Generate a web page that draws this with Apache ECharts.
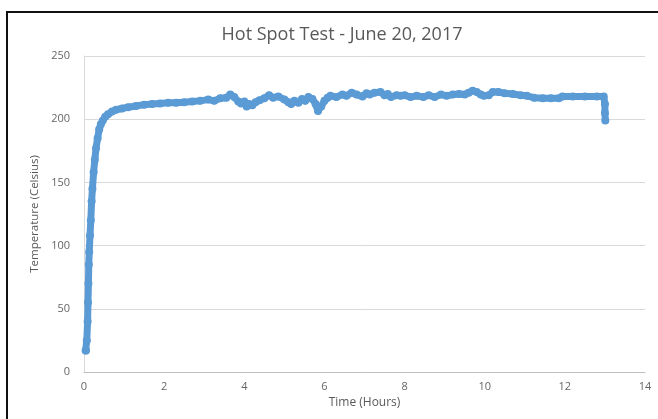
<!DOCTYPE html>
<html>
<head>
<meta charset="utf-8">
<script src="https://cdn.jsdelivr.net/npm/echarts@6/dist/echarts.min.js"></script>
<style>
  html, body { margin: 0; padding: 0; background: #fff; overflow: hidden; }
  #wrap { position: relative; width: 658px; height: 419px; }
  #chart { width: 658px; height: 419px; }
  #frame {
    position: absolute; left: 6px; top: 11px; width: 700px; height: 500px;
    border-top: 2.5px solid #111; border-left: 2.5px solid #111;
    pointer-events: none;
  }
</style>
</head>
<body>
<div id="wrap">
  <div id="chart"></div>
  <div id="frame"></div>
</div>
<script>
// readings
const hours = [
  0.04, 0.05, 0.07, 0.09, 0.1, 0.11, 0.12, 0.13, 0.15, 0.17, 0.19, 0.21, 0.24, 0.27, 0.3,
  0.34, 0.38, 0.42, 0.47, 0.53, 0.6, 0.7, 0.8, 0.95, 1.1, 1.3, 1.5, 1.7, 1.9, 2.1,
  2.3, 2.5, 2.7, 2.9, 3.1, 3.25, 3.4, 3.55, 3.65, 3.75, 3.85, 3.92, 4.0, 4.06, 4.12,
  4.2, 4.28, 4.38, 4.5, 4.62, 4.72, 4.85, 5.0, 5.1, 5.17, 5.25, 5.35, 5.44, 5.52, 5.6,
  5.7, 5.78, 5.84, 5.92, 6.0, 6.08, 6.15, 6.3, 6.45, 6.55, 6.68, 6.8, 6.95, 7.05, 7.13,
  7.25, 7.4, 7.5, 7.58, 7.66, 7.8, 7.9, 8.0, 8.15, 8.3, 8.47, 8.6, 8.75, 8.91, 9.05,
  9.2, 9.36, 9.5, 9.6, 9.7, 9.8, 9.9, 9.98, 10.1, 10.2, 10.34, 10.5, 10.7, 10.9, 11.05,
  11.23, 11.45, 11.65, 11.85, 11.94, 12.2, 12.5, 12.8, 12.97, 13.0, 13.0, 13.01
]
const temps = [
  17, 17, 25, 40, 55, 70, 85, 95, 108, 120, 135, 145, 158, 168, 177,
  185, 192, 196, 199, 202, 204, 206, 207.5, 208.5, 209.5, 210.5, 211.5, 212, 212.5, 213,
  213, 213.5, 214, 214.5, 215.5, 214.5, 216.5, 217, 219.5, 217.5, 214, 212.5, 214, 210, 212,
  211, 213.5, 215, 216.5, 219, 217, 218, 215.5, 213.5, 212, 214.5, 213, 216, 214.5, 217.5,
  216, 212, 206.5, 210, 214.5, 217, 218.5, 217.5, 219.5, 218.5, 221, 219.5, 218, 220.5, 219.5,
  221, 221.5, 219, 220, 217.5, 219, 218.5, 219, 217.5, 218.5, 217.5, 219, 217.5, 219.5, 218.5,
  219.5, 220, 219.5, 221, 222.5, 221.5, 219.5, 218.5, 219, 221.5, 221.5, 220.5, 220, 219, 218.5,
  217, 216.5, 216.5, 216.5, 218, 218, 218, 218, 218, 212, 205, 199
]
const xTicks = [0, 2, 4, 6, 8, 10, 12, 14]
const yTicks = [0, 50, 100, 150, 200, 250]

const points = hours.map((h, i) => [h, temps[i]])

var myChart = echarts.init(document.getElementById("chart"))

let option = {
  animation: false,
  title: {
    text: "Hot Spot Test - June 20, 2017",
    left: 337,
    top: 21,
    textAlign: "center",
    textStyle: {
      fontFamily: "Open Sans",
      fontSize: 18,
      fontWeight: "normal",
      color: "#595959"
    }
  },
  grid: {
    left: 84,
    right: 13,
    top: 56,
    bottom: 47
  },
  xAxis: {
    type: "value",
    min: xTicks[0],
    max: xTicks[xTicks.length - 1],
    interval: 2,
    name: "Time (Hours)",
    nameLocation: "middle",
    nameGap: 24,
    nameTextStyle: { fontFamily: "Open Sans", fontSize: 12, color: "#595959" },
    axisLine: { show: true, lineStyle: { color: "#bfbfbf", width: 1 } },
    axisTick: { show: false },
    axisLabel: { fontFamily: "Open Sans", fontSize: 11, color: "#666", margin: 9 },
    splitLine: { show: false }
  },
  yAxis: {
    type: "value",
    min: yTicks[0],
    max: yTicks[yTicks.length - 1],
    interval: 50,
    name: "Temperature (Celsius)",
    nameLocation: "middle",
    nameGap: 38,
    nameTextStyle: { fontFamily: "Open Sans", fontSize: 11.5, color: "#595959" },
    axisLine: { show: true, lineStyle: { color: "#d9d9d9", width: 1 } },
    axisTick: { show: false },
    axisLabel: { fontFamily: "Open Sans", fontSize: 11, color: "#666", margin: 14 },
    splitLine: { show: true, lineStyle: { color: "#d9d9d9", width: 1 } }
  },
  series: [
    {
      type: "line",
      data: points,
      showAllSymbol: true,
      symbol: "circle",
      symbolSize: 8,
      lineStyle: { color: "#5b9bd5", width: 7, cap: "round", join: "round" },
      itemStyle: { color: "#5b9bd5" }
    }
  ]
}

myChart.setOption(option)
</script>
</body>
</html>
